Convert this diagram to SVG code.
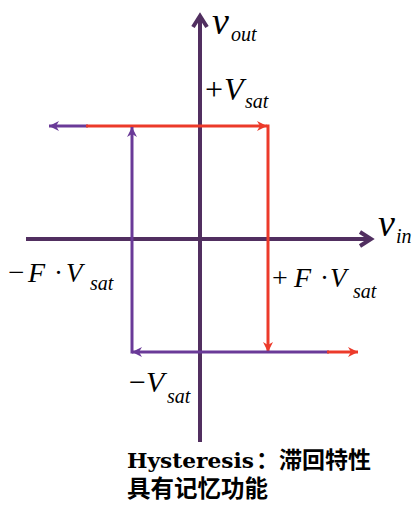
<svg xmlns="http://www.w3.org/2000/svg" width="417" height="515" viewBox="0 0 417 515">
<defs>
<style>
.axis{stroke:#512F60;stroke-width:4;fill:none}
.pur{stroke:#6A3A98;stroke-width:3;fill:none}
.red{stroke:#EC3A2A;stroke-width:3;fill:none}
.m{font-family:"Liberation Serif","Times New Roman",serif;fill:#000}
.i{font-style:italic}
.cap{font-family:"DejaVu Serif",serif;font-weight:bold;fill:#000}
.cjk{font-family:"Noto Sans CJK SC","Noto Sans",sans-serif;font-weight:bold;fill:#000}
</style>
<marker id="ax" markerUnits="userSpaceOnUse" markerWidth="20" markerHeight="20" refX="0" refY="0" viewBox="-16 -10 20 20" orient="auto">
<path d="M-11 -7 L0 0 L-11 7" fill="none" stroke="#512F60" stroke-width="4" stroke-linejoin="miter"/>
</marker>
<marker id="ap" markerUnits="userSpaceOnUse" markerWidth="14" markerHeight="14" refX="0" refY="0" viewBox="-12 -7 14 14" orient="auto">
<path d="M0 0 L-10 -5 L-7 0 L-10 5 Z" fill="#6A3A98"/>
</marker>
<marker id="ar" markerUnits="userSpaceOnUse" markerWidth="14" markerHeight="14" refX="0" refY="0" viewBox="-12 -7 14 14" orient="auto">
<path d="M0 0 L-10 -5 L-7 0 L-10 5 Z" fill="#EC3A2A"/>
</marker>
</defs>
<g id="connectors">
<line id="y-axis" class="axis" x1="200" y1="442" x2="200" y2="16" marker-end="url(#ax)"/>
<line id="x-axis" class="axis" x1="26" y1="239" x2="371" y2="239" marker-end="url(#ax)"/>
<line class="pur" x1="88" y1="126" x2="49" y2="126" marker-end="url(#ap)"/>
<line class="red" x1="86" y1="126" x2="267" y2="126" marker-end="url(#ar)"/>
<line class="red" x1="268" y1="124.5" x2="268" y2="352" marker-end="url(#ar)"/>
<line class="pur" x1="132" y1="353.5" x2="132" y2="127" marker-end="url(#ap)"/>
<line class="pur" x1="329" y1="352" x2="132" y2="352" marker-end="url(#ap)"/>
<line class="red" x1="327" y1="352" x2="358" y2="352" marker-end="url(#ar)"/>
</g>
<g id="label-vout">
<text class="m i" x="212" y="34" font-size="38">v</text>
<text class="m i" x="231" y="41" font-size="20">out</text>
</g>
<g id="label-vin">
<text class="m i" x="378" y="236" font-size="38">v</text>
<text class="m i" x="396" y="243" font-size="20">in</text>
</g>
<g id="label-pvsat">
<text class="m" x="205" y="100" font-size="32">+</text>
<text class="m i" x="224" y="100" font-size="32">V</text>
<text class="m i" x="245" y="108" font-size="20">sat</text>
</g>
<g id="label-nfvsat">
<text class="m" x="8" y="282" font-size="29">−</text>
<text class="m i" x="28" y="282" font-size="28">F</text>
<text class="m" x="54" y="282" font-size="27">·</text>
<text class="m i" x="66" y="282" font-size="27">V</text>
<text class="m i" x="90" y="290" font-size="20">sat</text>
</g>
<g id="label-pfvsat">
<text class="m" x="272" y="287" font-size="28">+</text>
<text class="m i" x="294" y="287" font-size="28">F</text>
<text class="m" x="320" y="287" font-size="27">·</text>
<text class="m i" x="330" y="287" font-size="27">V</text>
<text class="m i" x="353" y="298" font-size="20">sat</text>
</g>
<g id="label-nvsat">
<text class="m" x="129" y="392" font-size="30">−</text>
<text class="m i" x="146" y="392" font-size="30">V</text>
<text class="m i" x="167" y="403" font-size="20">sat</text>
</g>
<g id="caption">
<text x="127" y="468"><tspan class="cap" font-size="21" textLength="127" lengthAdjust="spacingAndGlyphs">Hysteresis</tspan><tspan class="cjk" x="256" font-size="23">：滞回特性</tspan><tspan class="cjk" x="127" y="497" font-size="23.5">具有记忆功能</tspan></text>
</g>
</svg>
